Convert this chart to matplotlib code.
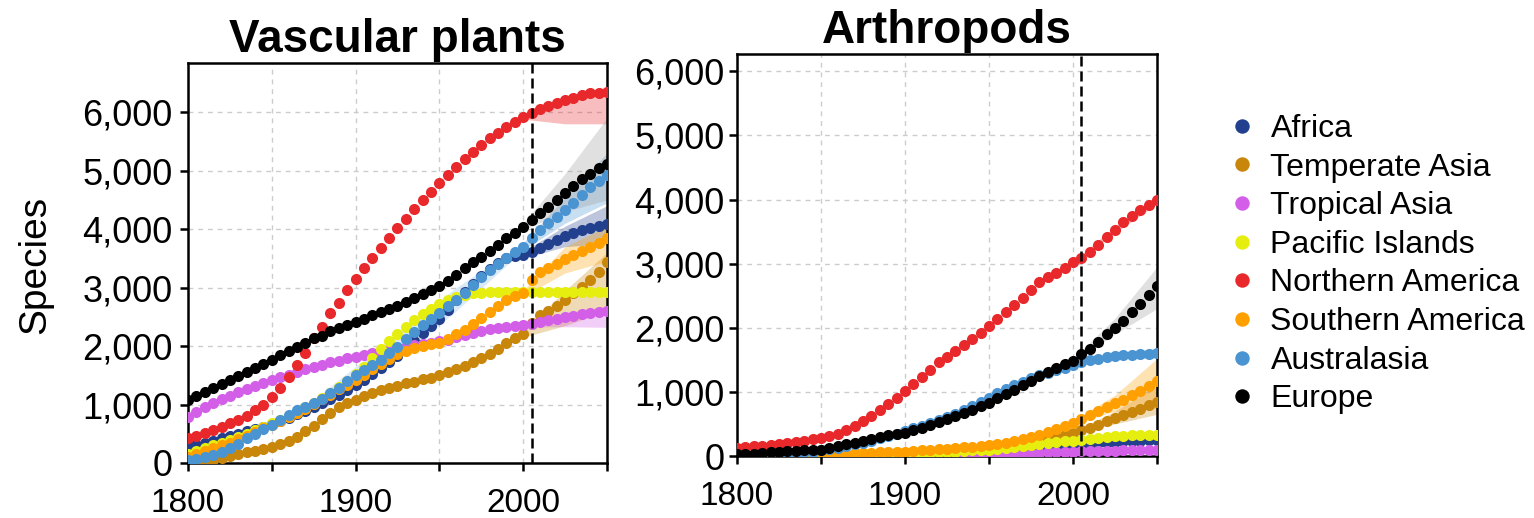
import matplotlib
matplotlib.use("Agg")
import matplotlib.pyplot as plt

plt.rcParams['font.family'] = ['Liberation Sans', 'DejaVu Sans']

years = list(range(1800, 2051, 5))

regions = ['Africa', 'Temperate Asia', 'Tropical Asia', 'Pacific Islands',
           'Northern America', 'Southern America', 'Australasia', 'Europe']
colors = ['#23408e', '#c8860a', '#d35fe8', '#e6ee10',
          '#e8282b', '#ffa000', '#4a94d2', '#000000']

# Vascular plants, one value every 5 years 1800-2050
plant_africa = [270, 300, 340, 380, 420, 460, 500, 540, 580, 620,
                660, 710, 770, 830, 890, 950, 1020, 1090, 1170, 1250,
                1330, 1420, 1520, 1620, 1720, 1830, 1950, 2090, 2220, 2350,
                2470, 2620, 2780, 2920, 3060, 3200, 3320, 3420, 3500, 3540,
                3560, 3600, 3680, 3750, 3820, 3880, 3930, 3980, 4020, 4050, 4080]
plant_temp_asia = [0, 0, 20, 50, 90, 120, 150, 180, 210, 240,
                   280, 320, 380, 450, 540, 640, 750, 850, 950, 1020,
                   1080, 1140, 1200, 1250, 1290, 1320, 1360, 1390, 1430, 1460,
                   1500, 1550, 1610, 1660, 1720, 1790, 1870, 1950, 2050, 2130,
                   2200, 2390, 2530, 2600, 2680, 2780, 2900, 3010, 3130, 3270, 3440]
plant_trop_asia = [790, 870, 950, 1020, 1090, 1150, 1210, 1270, 1320, 1370,
                   1420, 1470, 1510, 1560, 1600, 1640, 1680, 1720, 1750, 1790,
                   1820, 1850, 1880, 1900, 1930, 1960, 1990, 2020, 2040, 2060,
                   2080, 2110, 2150, 2190, 2230, 2260, 2290, 2310, 2330, 2350,
                   2360, 2380, 2410, 2440, 2470, 2500, 2520, 2540, 2560, 2580, 2600]
plant_pacific = [160, 200, 250, 300, 350, 400, 450, 500, 560, 620,
                 680, 740, 810, 880, 950, 1030, 1110, 1200, 1300, 1400,
                 1520, 1650, 1800, 1950, 2080, 2200, 2320, 2440, 2550, 2640,
                 2720, 2790, 2840, 2880, 2900, 2915, 2920, 2925, 2930, 2930,
                 2930, 2930, 2930, 2930, 2930, 2930, 2930, 2930, 2930, 2930, 2930]
plant_n_america = [420, 470, 520, 570, 620, 680, 740, 810, 900, 1000,
                   1130, 1275, 1475, 1675, 1875, 2130, 2330, 2560, 2740, 2960,
                   3140, 3330, 3510, 3680, 3850, 4010, 4180, 4340, 4500, 4640,
                   4780, 4920, 5065, 5200, 5320, 5435, 5550, 5650, 5750, 5835,
                   5910, 5990, 6045, 6100, 6160, 6205, 6250, 6290, 6320, 6335, 6350]
plant_s_america = [110, 150, 200, 250, 300, 350, 410, 470, 530, 590,
                   650, 720, 790, 860, 930, 1010, 1090, 1170, 1260, 1340,
                   1420, 1510, 1600, 1690, 1780, 1860, 1920, 1970, 2000, 2030,
                   2060, 2120, 2200, 2280, 2380, 2480, 2590, 2690, 2790, 2850,
                   2900, 3130, 3270, 3340, 3410, 3480, 3555, 3630, 3700, 3770, 3840]
plant_australasia = [50, 70, 100, 140, 190, 250, 320, 420, 500, 580,
                     650, 730, 820, 905, 960, 1020, 1100, 1190, 1290, 1400,
                     1500, 1590, 1680, 1760, 1880, 1990, 2120, 2245, 2360, 2460,
                     2560, 2680, 2790, 2900, 3040, 3185, 3300, 3410, 3510, 3600,
                     3700, 3840, 3980, 4100, 4210, 4320, 4440, 4580, 4720, 4820, 4920]
plant_europe = [1080, 1140, 1210, 1275, 1350, 1420, 1490, 1560, 1630, 1700,
                1760, 1840, 1910, 1990, 2060, 2130, 2180, 2250, 2300, 2360,
                2410, 2470, 2530, 2590, 2640, 2690, 2750, 2820, 2890, 2950,
                3020, 3120, 3220, 3330, 3430, 3530, 3630, 3730, 3840, 3940,
                4040, 4150, 4270, 4380, 4500, 4620, 4740, 4850, 4950, 5040, 5120]

# Arthropods
arth_africa = [0, 0, 0, 0, 0, 0, 0, 0, 0, 0,
               1, 2, 3, 4, 5, 6, 8, 10, 12, 14,
               16, 18, 20, 24, 28, 32, 36, 40, 45, 50,
               55, 62, 70, 80, 90, 100, 115, 130, 145, 160,
               170, 180, 190, 200, 210, 220, 228, 235, 240, 245, 250]
arth_temp_asia = [0, 0, 0, 0, 0, 0, 0, 0, 0, 0,
                  0, 0, 0, 0, 0, 2, 4, 6, 8, 10,
                  12, 15, 18, 22, 26, 30, 40, 50, 60, 70,
                  80, 100, 120, 145, 170, 200, 230, 265, 300, 330,
                  360, 400, 440, 490, 540, 590, 640, 690, 740, 795, 850]
arth_trop_asia = [0, 0, 0, 0, 0, 0, 0, 0, 0, 0,
                  0, 0, 0, 0, 0, 0, 0, 0, 0, 0,
                  5, 6, 8, 10, 12, 15, 18, 20, 24, 27,
                  30, 34, 38, 42, 46, 50, 54, 58, 62, 66,
                  70, 73, 76, 79, 82, 84, 86, 88, 90, 92, 94]
arth_pacific = [0, 0, 0, 0, 0, 0, 0, 0, 0, 0,
                2, 4, 6, 8, 10, 12, 15, 18, 21, 25,
                30, 35, 40, 48, 55, 62, 70, 78, 86, 94,
                100, 110, 120, 135, 150, 165, 180, 200, 215, 230,
                240, 255, 270, 285, 295, 305, 315, 320, 325, 330, 335]
arth_n_america = [130, 140, 150, 160, 175, 190, 205, 220, 240, 260,
                  280, 310, 350, 400, 470, 550, 630, 720, 810, 910,
                  1015, 1120, 1225, 1340, 1460, 1550, 1640, 1730, 1820, 1920,
                  2030, 2130, 2240, 2350, 2470, 2590, 2710, 2790, 2860, 2940,
                  3030, 3090, 3180, 3290, 3410, 3530, 3650, 3740, 3830, 3910, 3990]
arth_s_america = [0, 0, 0, 2, 4, 6, 8, 10, 12, 15,
                  20, 25, 30, 35, 40, 45, 50, 55, 60, 65,
                  70, 78, 86, 95, 105, 115, 125, 135, 145, 155,
                  170, 190, 210, 235, 260, 295, 330, 375, 420, 470,
                  520, 580, 640, 700, 760, 820, 880, 950, 1020, 1090, 1170]
arth_australasia = [10, 12, 15, 20, 25, 30, 38, 45, 55, 70,
                    90, 110, 130, 155, 180, 210, 240, 275, 310, 350,
                    390, 430, 470, 515, 560, 610, 660, 720, 780, 845,
                    910, 975, 1040, 1100, 1160, 1210, 1260, 1300, 1340, 1380,
                    1420, 1460, 1490, 1515, 1540, 1555, 1570, 1580, 1590, 1595, 1600]
arth_europe = [25, 30, 35, 45, 55, 65, 75, 85, 90, 95,
               100, 120, 150, 180, 210, 235, 260, 290, 320, 345,
               365, 400, 440, 480, 525, 570, 620, 670, 720, 775,
               830, 900, 965, 1030, 1100, 1170, 1240, 1310, 1380, 1430,
               1485, 1590, 1670, 1780, 1900, 2000, 2110, 2240, 2370, 2510, 2655]

plant_series = [plant_africa, plant_temp_asia, plant_trop_asia, plant_pacific,
                plant_n_america, plant_s_america, plant_australasia, plant_europe]
arth_series = [arth_africa, arth_temp_asia, arth_trop_asia, arth_pacific,
               arth_n_america, arth_s_america, arth_australasia, arth_europe]

# confidence bands for the projection period (same region order)
band_years = [2000, 2025, 2050]
plant_band_lo = [[3500, 3700, 3750], [2150, 2350, 2600], [2330, 2330, 2320],
                 [2900, 2880, 2860], [5880, 5800, 5800], [2850, 3250, 3450],
                 [3640, 4100, 4450], [3980, 4300, 4500]]
plant_band_hi = [[3620, 4050, 4400], [2250, 2950, 3600], [2400, 2560, 2680],
                 [2960, 2980, 3000], [5940, 6230, 6360], [2950, 3700, 4050],
                 [3760, 4550, 5300], [4100, 4950, 5900]]
arth_band_lo = [[160, 200, 220], [350, 500, 650], [65, 75, 80],
                [230, 290, 310], [3000, 3480, 3930], [500, 700, 750],
                [1400, 1520, 1520], [1460, 1900, 2300]]
arth_band_hi = [[180, 240, 290], [380, 700, 1100], [75, 95, 110],
                [250, 320, 360], [3040, 3580, 4060], [550, 950, 1520],
                [1440, 1600, 1680], [1520, 2150, 2950]]

# light band around Australasia plants in the middle period
aus_mid_years = [1880, 1920, 1960, 2000]
aus_mid_lo = [1050, 1650, 2600, 3640]
aus_mid_hi = [1200, 2100, 3000, 3760]

cutoff_year = 2005

fig = plt.figure(figsize=(15.34, 5.18), dpi=100)
ax1 = fig.add_axes([188 / 1534, 55 / 518, 419 / 1534, 400 / 518])
ax2 = fig.add_axes([737 / 1534, 62 / 518, 420 / 1534, 402 / 518])


def draw_panel(ax, series, band_lo, band_hi, title, ytop, ypad):
    for i, vals in enumerate(series):
        c = colors[i]
        band_c = '#999999' if c == '#000000' else c
        ax.fill_between(band_years, band_lo[i], band_hi[i], color=band_c,
                        alpha=0.3, linewidth=0, zorder=1)
    for i, vals in enumerate(series):
        ax.plot(years, vals, 'o', color=colors[i], markersize=8,
                markeredgewidth=0, label=regions[i], zorder=3)
    ax.axvline(cutoff_year, color='black', lw=1.8, linestyle=(0, (4, 2)), zorder=4)
    ax.set_xlim(1800, 2050)
    ax.set_ylim(0, ytop)
    ax.set_xticks(range(1800, 2051, 50))
    ax.set_xticklabels(['1800', '', '1900', '', '2000', ''])
    ax.set_yticks(range(0, 6001, 1000))
    ax.set_yticklabels(['0', '1,000', '2,000', '3,000', '4,000', '5,000', '6,000'])
    ax.grid(True, color='#cccccc', lw=1.0, linestyle=(0, (3.5, 3.5)), zorder=0)
    ax.set_axisbelow(True)
    for s in ax.spines.values():
        s.set_linewidth(1.8)
    ax.tick_params(axis='x', labelsize=24, width=1.8, length=6, pad=12)
    ax.tick_params(axis='y', labelsize=26, width=1.8, length=6, pad=ypad)
    ax.set_title(title, fontsize=33, fontweight='bold', pad=8)


draw_panel(ax1, plant_series, plant_band_lo, plant_band_hi, 'Vascular plants', 6840, 5)
ax1.fill_between(aus_mid_years, aus_mid_lo, aus_mid_hi, color=colors[6],
                 alpha=0.2, linewidth=0, zorder=1)
draw_panel(ax2, arth_series, arth_band_lo, arth_band_hi, 'Arthropods', 6270, 3)

fig.text(35 / 1534, 1 - 265 / 518, 'Species', rotation=90, fontsize=28,
         ha='center', va='center')

handles, labels = ax1.get_legend_handles_labels()
fig.legend(handles, labels, loc='upper left', bbox_to_anchor=(1213 / 1534, 1 - 98 / 518),
           frameon=False, fontsize=23, borderpad=0, handlelength=0.8,
           handletextpad=0.5, labelspacing=0.27, markerscale=1.3)

fig.savefig('out.png', dpi=100)
